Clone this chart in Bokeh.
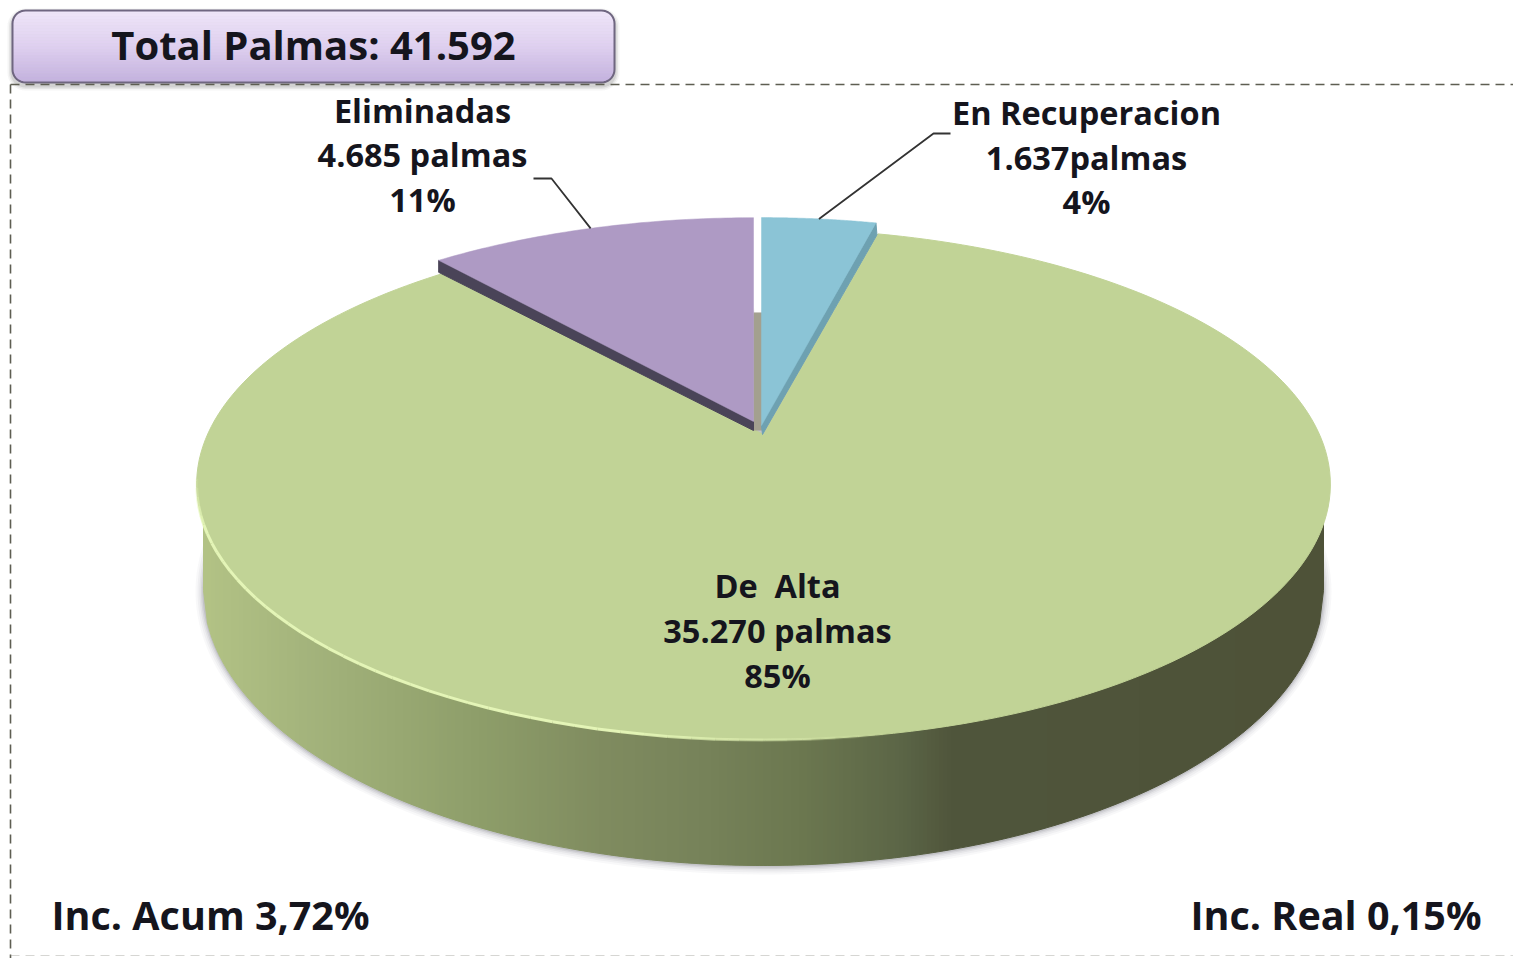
import numpy as np
from bokeh.plotting import figure
from bokeh.models import Range1d
from bokeh.core.properties import value
from bokeh.embed import file_html
from bokeh.resources import INLINE

# --- data
categories = ["En Recuperacion", "De  Alta", "Eliminadas"]
palmas = [1637, 35270, 4685]
value_labels = ["1.637palmas", "35.270 palmas", "4.685 palmas"]
pct_labels = ["4%", "85%", "11%"]
title_text = "Total Palmas: 41.592"
note_left = "Inc. Acum 3,72%"
note_right = "Inc. Real 0,15%"

# --- layout: the page coordinates of the reference are used as data coordinates
FONT = value("Open Sans")
INK = "#15151d"
K = 0.195            # perspective of the disc
A, B = 556.0, 246.0  # disc scale
APEX = {"En Recuperacion": (761, 425, 1.01), "De  Alta": (763, 434, 1.0), "Eliminadas": (753, 421, 0.99)}
COLORS = {"En Recuperacion": "#8bc4d6", "De  Alta": "#c1d396", "Eliminadas": "#ae9ac4"}
LABEL_POS = {"En Recuperacion": (1086, 112, 157, 201), "De  Alta": (777, 585, 630, 675), "Eliminadas": (422, 110, 154, 199)}


def rim(theta, ax, ay, sy=1.0):
    u, v = np.sin(theta), np.cos(theta)
    d = 1 + K * v
    return ax + A * u / d, ay - sy * B * v / d


p = figure(width=1513, height=958, output_backend="svg", toolbar_location=None,
           x_range=Range1d(0, 1513), y_range=Range1d(958, 0), min_border=0,
           background_fill_color="#ffffff", border_fill_color="#ffffff", outline_line_color=None)
p.axis.visible = False
p.grid.visible = False

total = sum(palmas)
angles = np.cumsum([0] + palmas) / total * 2 * np.pi
spans = {c: (angles[i], angles[i + 1]) for i, c in enumerate(categories)}

# --- disc wall (bottom ellipse + horizontal colour ramp)
CX, TOPCY, TOPA, TOPB = 763.0, 484.0, 567.0, 256.0
BOTCY, BOTA, BOTB = 590.0, 560.0, 275.0
t = np.linspace(0, 2 * np.pi, 240)
for g, a in [(8, .04), (6, .05), (4, .07), (2.5, .10), (1, .14)]:
    p.patch(CX + (BOTA + g) * np.cos(t), BOTCY + 1 + (BOTB + g) * np.sin(t),
            fill_color="#55555f", fill_alpha=a, line_color=None)

stops_x = [196, 300, 480, 600, 700, 800, 900, 950, 1330]
stops_c = [(0xb4, 0xc4, 0x86), (0xa5, 0xb5, 0x7d), (0x8e, 0x9e, 0x6a), (0x80, 0x8c, 0x60), (0x77, 0x83, 0x5a),
           (0x6c, 0x78, 0x50), (0x5c, 0x66, 0x47), (0x50, 0x56, 0x3c), (0x4e, 0x52, 0x38)]
edges = np.arange(CX - BOTA, CX + BOTA + 4, 4.0)
edges[-1] = CX + BOTA


def top_front(x):
    return TOPCY + TOPB * np.sqrt(np.clip(1 - ((x - CX) / TOPA) ** 2, 0, 1))


def bot_front(x):
    return BOTCY + BOTB * np.sqrt(np.clip(1 - ((x - CX) / BOTA) ** 2, 0, 1))


xs, ys, cs = [], [], []
for x0, x1 in zip(edges[:-1], edges[1:]):
    xs.append([x0, x1, x1, x0])
    ys.append([top_front(x0) - 6, top_front(x1) - 6, bot_front(x1), bot_front(x0)])
    m = (x0 + x1) / 2
    rgb = [int(np.interp(m, stops_x, [c[k] for c in stops_c])) for k in range(3)]
    cs.append("#%02x%02x%02x" % tuple(rgb))
p.patches(xs, ys, fill_color=cs, line_color=cs, line_width=1)

# --- De Alta face
s0, s1 = spans["De  Alta"]
ax, ay, sy = APEX["De  Alta"]
th = np.linspace(s0, s1, 200)
rx, ry = rim(th, ax, ay, sy)
p.patch(np.r_[ax, rx], np.r_[ay, ry], fill_color=COLORS["De  Alta"], line_color=COLORS["De  Alta"], line_width=1)

# light edge along the front-left of the disc, fading at both ends
hl = np.radians(np.linspace(168, 262, 48))
hx, hy = rim(hl, ax, ay, sy)
hf = np.linspace(0, 1, len(hl) - 1)
p.multi_line([[hx[i], hx[i + 1]] for i in range(len(hl) - 1)], [[hy[i], hy[i + 1]] for i in range(len(hl) - 1)],
             line_color="#e6f7b8", line_width=3, line_alpha=list(np.minimum(1, np.minimum(hf * 4, (1 - hf) * 8)) * 0.95))

# --- gap between the pulled-out slices
p.quad(left=754, right=761, top=214, bottom=312, fill_color="#ffffff", line_color=None)
p.quad(left=753, right=762, top=312, bottom=430, fill_color="#a3a08f", line_color=None)

# --- cut walls of the pulled-out slices
for name, ang, col in [("Eliminadas", spans["Eliminadas"][0], "#4a4458"), ("En Recuperacion", spans["En Recuperacion"][1], "#6ea1b1")]:
    ax, ay, sy = APEX[name]
    cx_, cy_ = rim(ang, ax, ay, sy)
    dx = 1 if name == "En Recuperacion" else 0
    p.patch([cx_, ax, ax + dx, cx_ + dx], [cy_, ay, ay + 9, cy_ + 12], fill_color=col, line_color=col, line_width=1)

# --- pulled-out slice faces
for name in ["Eliminadas", "En Recuperacion"]:
    s0, s1 = spans[name]
    ax, ay, sy = APEX[name]
    th = np.linspace(s0, s1, 60)
    rx, ry = rim(th, ax, ay, sy)
    p.patch(np.r_[ax, rx], np.r_[ay, ry], fill_color=COLORS[name], line_color=COLORS[name], line_width=0.5)

# --- leader lines, ending on the middle of each slice's rim
ax, ay, sy = APEX["Eliminadas"]
mx, my = rim(sum(spans["Eliminadas"]) / 2, ax, ay, sy)
p.line([533, 551, mx], [178, 178, my], line_color="#333333", line_width=1.8)
ax, ay, sy = APEX["En Recuperacion"]
mx, my = rim(sum(spans["En Recuperacion"]) / 2, ax, ay, sy)
p.line([950, 933, mx], [133, 133, my], line_color="#333333", line_width=1.8)

# --- title box shadow and gradient
X0, X1, Y0, Y1, R = 12.0, 614.0, 10.0, 82.0, 13.0
def box(g=0.0, dy=0.0):
    c = np.linspace(0, np.pi / 2, 10)
    r = R + g
    bx = np.r_[X1 + g - r + r * np.sin(c), X1 + g - r + r * np.cos(c), X0 - g + r - r * np.sin(c), X0 - g + r - r * np.cos(c)]
    by = np.r_[Y0 - g + r - r * np.cos(c), Y1 + g - r + r * np.sin(c), Y1 + g - r + r * np.cos(c), Y0 - g + r - r * np.sin(c)]
    return bx, by + dy
for g, a in [(5, .05), (3.5, .08), (2, .12)]:
    bx, by = box(g, 3)
    p.patch(bx, by, fill_color="#444444", fill_alpha=a, line_color=None)

bands = np.arange(Y0, Y1, 3.0)
gx, gy, gc = [], [], []
def inset(v):
    d = max(Y0 + R - v, v - (Y1 - R), 0)
    return R - np.sqrt(max(R * R - d * d, 0))
for y in bands:
    y2 = min(y + 3, Y1)
    gx.append([X0 + inset(y), X1 - inset(y), X1 - inset(y2), X0 + inset(y2)])
    gy.append([y, y, y2, y2])
    f = (y + 1.5 - Y0) / (Y1 - Y0)
    rgb = [int(np.interp(f, [0, .5, 1], v)) for v in [(0xef, 0xdf, 0xc3), (0xe6, 0xd0, 0xb1), (0xf9, 0xf0, 0xde)]]
    gc.append("#%02x%02x%02x" % tuple(rgb))
p.patches(gx, gy, fill_color=gc, line_color=gc, line_width=0.5)
bx, by = box()
p.line(np.r_[bx, bx[0]], np.r_[by, by[0]], line_color="#6f6680", line_width=2)

# --- dashed frame
p.line([10, 1513], [84, 84], line_color="#5e5e52", line_width=1.6, line_dash="9 6")
p.line([10, 10], [84, 958], line_color="#5e5e52", line_width=1.6, line_dash="9 6")
p.line([10, 1513], [955, 955], line_color="#8a8a80", line_width=1.2, line_alpha=0.35, line_dash="9 6")

# --- texts
p.text([313], [44], text=[title_text], text_font=FONT, text_font_style="bold", text_font_size="40px",
       text_color=INK, text_align="center", text_baseline="middle")
for i, c in enumerate(categories):
    lx, y1, y2, y3 = LABEL_POS[c]
    shown = c.replace("  ", "\u00a0 ")
    p.text([lx] * 3, [y1, y2, y3], text=[shown, value_labels[i], pct_labels[i]], text_font=FONT, text_font_style="bold",
           text_font_size="32.5px", text_color=INK, text_align="center", text_baseline="middle")
p.text([51], [914], text=[note_left], text_font=FONT, text_font_style="bold", text_font_size="39.5px",
       text_color=INK, text_align="left", text_baseline="middle")
p.text([1481], [914], text=[note_right], text_font=FONT, text_font_style="bold", text_font_size="39.5px",
       text_color=INK, text_align="right", text_baseline="middle")

open("out.html", "w").write(file_html(p, INLINE))
